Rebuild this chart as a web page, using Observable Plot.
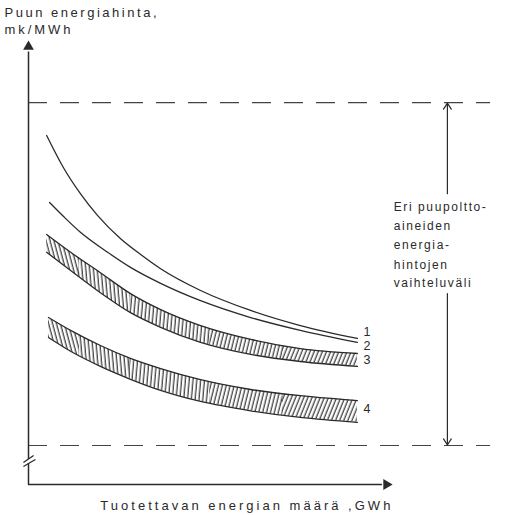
<!DOCTYPE html>
<html>
<head>
<meta charset="utf-8">
<script src="https://cdn.jsdelivr.net/npm/d3@7"></script>
<script src="https://cdn.jsdelivr.net/npm/@observablehq/plot@0.6"></script>
<style>
  html, body { margin: 0; padding: 0; background: #fff; }
  svg { display: block; }
</style>
</head>
<body>
<div id="chart"></div>
<script>
// ---- Data (arbitrary chart units: energy 0–100, price 0–100) ----
const curve1X = [5.0, 9.6, 14.3, 19.0, 25.3, 30.9, 36.4, 47.4, 61.2, 74.9, 90.6];
const curve1Y = [78.6, 71.4, 65.5, 60.6, 55.4, 51.8, 48.6, 43.7, 39.2, 35.8, 32.9];
const curve2X = [5.8, 9.6, 14.3, 21.8, 28.1, 36.4, 47.4, 61.2, 74.9, 90.6];
const curve2Y = [63.5, 60.4, 56.8, 52.3, 48.9, 45.3, 41.4, 37.6, 34.7, 32.0];
const band3X = [5.0, 11.6, 19.8, 28.1, 36.4, 47.4, 61.2, 74.9, 90.6];
const band3High = [56.3, 52.3, 47.7, 43.0, 39.4, 35.8, 32.7, 30.6, 29.5];
const band3Low = [52.3, 48.2, 43.2, 38.7, 35.4, 32.0, 29.3, 27.7, 26.6];
const band4X = [5.5, 11.6, 19.8, 28.1, 36.4, 47.4, 61.2, 74.9, 90.6];
const band4High = [37.6, 34.7, 31.3, 28.4, 26.1, 23.6, 21.4, 20.0, 18.9];
const band4Low = [33.1, 30.0, 26.6, 23.7, 21.2, 18.7, 16.6, 15.1, 14.0];

const rangeLimits = [86.0, 8.8];       // dashed price-range limits
const rangeRightEnd = 127.3;
const rangeArrowX = 115.4;
const rangeArrowParts = [[65.5, 85.9], [43.0, 8.9]]; // [from, to] (head at "to")

const curveLabels = ["1", "2", "3", "4"];
const curveLabelY = [34.4, 31.2, 28.0, 17.1];
const curveLabelX = 92.3;

const titleLines = ["Puun energiahinta,", "mk/MWh"];
const titleY = [106.3, 102.4];
const titleX = -6.6;
const xTitle = "Tuotettavan energian määrä ,GWh";
const xTitleX = 19.8, xTitleY = -4.7;
const noteLines = ["Eri puupoltto-", "aineiden", "energia-", "hintojen", "vaihteluväli"];
const noteY = [62.4, 58.1, 53.8, 49.5, 45.3];
const noteX = 100.6;

const axisBreak = [[-1.4, 4.05, 1.9, 5.63], [-1.4, 4.95, 1.4, 6.53]];
const yAxisParts = [[0, 4.84], [5.74, 97.5]];
const axisTip = 98.6;

// hatch direction changes along the bands (hand-drawn look)
const hatchBounds = [0, 14, 28, 50, 70, 100];
const hatchAngles = [-15, -5, 5, 14, 22];

// ---- Build tables ----
const toPts = (xs, ys) => xs.map((x, i) => ({x, y: ys[i]}));
const toBand = (xs, hi, lo) => xs.map((x, i) => ({x, hi: hi[i], lo: lo[i]}));
const c1 = toPts(curve1X, curve1Y);
const c2 = toPts(curve2X, curve2Y);
const b3 = toBand(band3X, band3High, band3Low);
const b4 = toBand(band4X, band4High, band4Low);
const ink = "#2a2a2a";
const crv = "monotone-x";

const hatchMarks = [b3, b4].flatMap(b =>
  hatchAngles.map((a, k) => Plot.areaY(b, {x: "x", y1: "lo", y2: "hi", fill: `url(#hatch${k})`, curve: crv}))
);

const chart = Plot.plot({
  width: 516,
  height: 515,
  marginLeft: 28,
  marginRight: 125,
  marginTop: 40,
  marginBottom: 31,
  x: {domain: [0, 100], axis: null},
  y: {domain: [0, 100], axis: null},
  style: {fontFamily: "'Liberation Sans', Arial, sans-serif", background: "white", overflow: "visible", color: ink},
  marks: [
    // dashed range limits
    Plot.ruleY(rangeLimits, {x1: 0, x2: rangeRightEnd, stroke: "#444", strokeWidth: 1.1, strokeDasharray: "19,13"}),
    // hatched bands
    ...hatchMarks,
    Plot.line(b3, {x: "x", y: "hi", stroke: ink, strokeWidth: 1.3, curve: crv}),
    Plot.line(b3, {x: "x", y: "lo", stroke: ink, strokeWidth: 1.3, curve: crv}),
    Plot.line(b4, {x: "x", y: "hi", stroke: ink, strokeWidth: 1.3, curve: crv}),
    Plot.line(b4, {x: "x", y: "lo", stroke: ink, strokeWidth: 1.3, curve: crv}),
    // curves 1 and 2
    Plot.line(c1, {x: "x", y: "y", stroke: ink, strokeWidth: 1.3, curve: crv}),
    Plot.line(c2, {x: "x", y: "y", stroke: ink, strokeWidth: 1.3, curve: crv}),
    // axes
    Plot.link(yAxisParts, {x1: 0, x2: 0, y1: d => d[0], y2: d => d[1], stroke: ink, strokeWidth: 1.5}),
    Plot.ruleY([0], {x1: 0, x2: 97.5, stroke: ink, strokeWidth: 1.5}),
    Plot.dot([axisTip], {x: 0, y: d => d, symbol: "triangle", r: 4, fill: ink, stroke: null}),
    Plot.dot([axisTip], {x: d => d, y: 0, symbol: "triangle", r: 4, fill: ink, stroke: null, rotate: 90}),
    Plot.link(axisBreak, {x1: d => d[0], y1: d => d[1], x2: d => d[2], y2: d => d[3], stroke: ink, strokeWidth: 1.3}),
    // range double arrow
    Plot.arrow(rangeArrowParts, {x1: rangeArrowX, x2: rangeArrowX, y1: d => d[0], y2: d => d[1], stroke: ink, strokeWidth: 1.2, headLength: 9, headAngle: 65}),
    // texts
    Plot.text(titleLines, {x: titleX, y: (d, i) => titleY[i], text: d => d, textAnchor: "start", fontSize: 13, fill: ink}),
    Plot.text([xTitle], {x: xTitleX, y: xTitleY, text: d => d, textAnchor: "start", fontSize: 13, fill: ink}),
    Plot.text(noteLines, {x: noteX, y: (d, i) => noteY[i], text: d => d, textAnchor: "start", fontSize: 12, fill: ink}),
    Plot.text(curveLabels, {x: curveLabelX, y: (d, i) => curveLabelY[i], text: d => d, textAnchor: "start", fontSize: 12.5, fill: ink})
  ]
});

// hatch patterns, clip regions + letter spacing
const svg = d3.select(chart);
const xs = chart.scale("x");
const defs = svg.insert("defs", ":first-child");
hatchAngles.forEach((a, k) => {
  const pat = defs.append("pattern")
    .attr("id", `hatch${k}`)
    .attr("patternUnits", "userSpaceOnUse")
    .attr("width", 3.8)
    .attr("height", 10)
    .attr("patternTransform", `rotate(${a})`);
  pat.append("line").attr("x1", 1.2).attr("x2", 1.2).attr("y1", -1).attr("y2", 11)
    .attr("stroke", ink).attr("stroke-width", 1.15);
  const x0 = xs.apply(hatchBounds[k]), x1 = xs.apply(hatchBounds[k + 1]);
  defs.append("clipPath").attr("id", `hclip${k}`)
    .append("rect").attr("x", x0 - 0.3).attr("width", x1 - x0 + 0.6).attr("y", 0).attr("height", 515);
});
svg.selectAll('g[aria-label="area"]').each(function (_, i) {
  d3.select(this).attr("clip-path", `url(#hclip${i % hatchAngles.length})`);
});

// text widths as measured on the reference (wide letter spacing)
const lengthByText = new Map([
  [titleLines[0], 152],
  [titleLines[1], 66],
  [xTitle, 290]
]);
const spacingByText = new Map(noteLines.map(t => [t, "1.6px"]));
svg.selectAll("text").each(function () {
  const t = this.textContent.trim();
  const L = lengthByText.get(t);
  if (L) {
    this.setAttribute("textLength", L);
    this.setAttribute("lengthAdjust", "spacing");
  }
  const s = spacingByText.get(t);
  if (s) this.style.letterSpacing = s;
});

document.getElementById("chart").appendChild(chart);
</script>
</body>
</html>
